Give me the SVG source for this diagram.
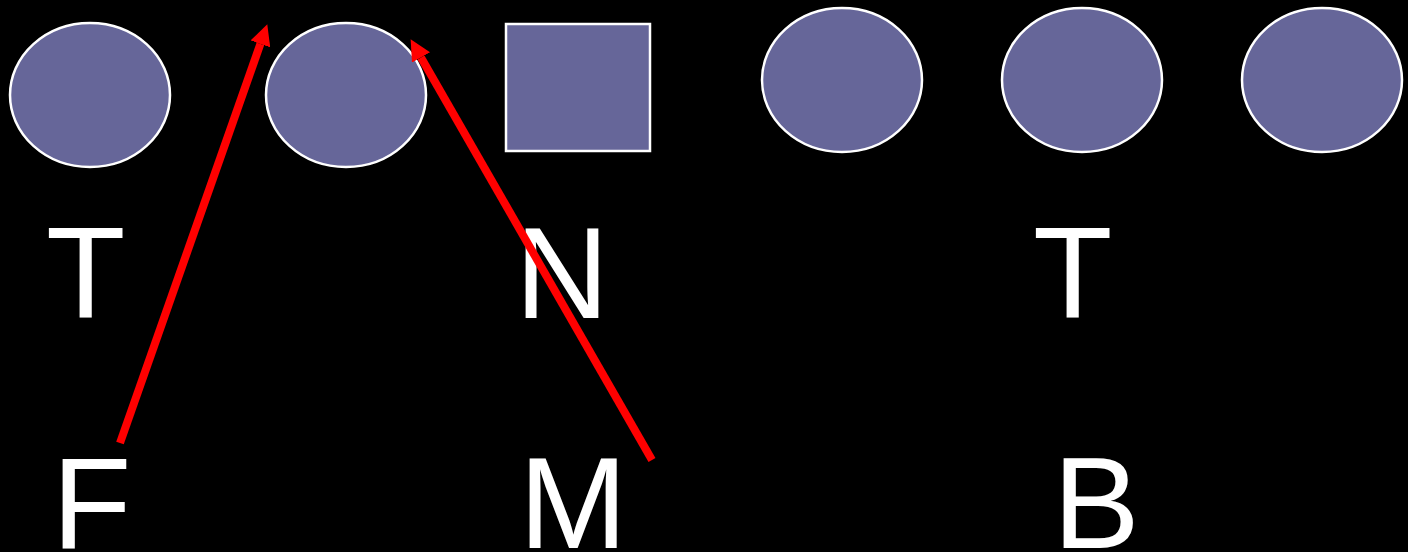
<svg xmlns="http://www.w3.org/2000/svg" width="1408" height="552" viewBox="0 0 1408 552">
  <style>
    .shape { fill: #666699; stroke: #ffffff; stroke-width: 2.5; }
    .label { fill: #ffffff; font-family: "Liberation Sans", Arial, sans-serif; font-size: 130px; }
    .arrow { stroke: #ff0000; stroke-width: 8; fill: none; stroke-linecap: butt; }
  </style>
  <defs>
    <marker id="head" viewBox="0 0 10 10" refX="0" refY="5" markerWidth="2.6" markerHeight="2.6" markerUnits="strokeWidth" orient="auto">
      <path d="M0,0 L10,5 L0,10 Z" fill="#ff0000"/>
    </marker>
  </defs>
  <rect width="1408" height="552" fill="#000000"/>

  <g id="node-1"><ellipse class="shape" cx="90" cy="95" rx="80" ry="72"/></g>
  <g id="node-2"><ellipse class="shape" cx="346" cy="95" rx="80" ry="72"/></g>
  <g id="node-3"><rect class="shape" x="506" y="24" width="144" height="127"/></g>
  <g id="node-4"><ellipse class="shape" cx="842" cy="80" rx="80" ry="72"/></g>
  <g id="node-5"><ellipse class="shape" cx="1082" cy="80" rx="80" ry="72"/></g>
  <g id="node-6"><ellipse class="shape" cx="1322" cy="80" rx="80" ry="72"/></g>

  <g id="labels">
    <text class="label" x="46" y="318">T</text>
    <text class="label" x="515" y="318">N</text>
    <text class="label" x="1033" y="318">T</text>
    <text class="label" x="52" y="548">F</text>
    <text class="label" x="519" y="548">M</text>
    <text class="label" x="1053" y="548">B</text>
  </g>

  <g id="connectors">
    <line class="arrow" x1="120" y1="443" x2="260.4" y2="43.9" marker-end="url(#head)"/>
    <line class="arrow" x1="652" y1="460" x2="421" y2="57.4" marker-end="url(#head)"/>
  </g>
</svg>
